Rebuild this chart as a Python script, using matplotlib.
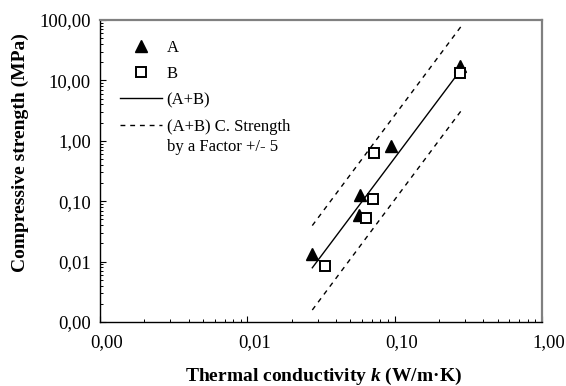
import matplotlib
matplotlib.use("Agg")
import matplotlib.pyplot as plt
from matplotlib.ticker import FuncFormatter, FixedLocator, NullFormatter
from matplotlib.transforms import ScaledTranslation

plt.rcParams['font.family'] = ['Liberation Serif', 'DejaVu Serif']
plt.rcParams['mathtext.fontset'] = 'custom'
plt.rcParams['mathtext.rm'] = 'Liberation Serif:bold'
plt.rcParams['mathtext.it'] = 'Liberation Serif:italic:bold'
plt.rcParams['mathtext.bf'] = 'Liberation Serif:bold'

# Data
a_k = [0.0275, 0.058, 0.0575, 0.095, 0.278]
a_s = [0.0134, 0.127, 0.059, 0.83, 17.3]
b_k = [0.0337, 0.0728, 0.071, 0.064, 0.278]
b_s = [0.00846, 0.62, 0.109, 0.0533, 13.1]
fit_k = [0.0276, 0.262]
fit_s = [0.0079, 11.9]
band_k = [0.0276, 0.282]
band_s = [0.0079, 15.6]
factor = 5
major_ticks = [0.001, 0.01, 0.1, 1, 10, 100]

fig = plt.figure(figsize=(5.66, 3.86), dpi=100)
ax = fig.add_axes([100/566, 1-322/386, 442/566, 302/386])
ax.set_xscale('log')
ax.set_yscale('log')
ax.set_xlim(0.001, 1)
ax.set_ylim(0.001, 100)

ax.plot(a_k, a_s, linestyle='none', marker='^', color='black', markersize=8, label='A', zorder=4)
ax.plot(b_k, b_s, linestyle='none', marker='s', markerfacecolor='white', markeredgecolor='black',
        markeredgewidth=1.4, markersize=7.5, label='B', zorder=4)
ax.plot(fit_k, fit_s, color='black', linewidth=1.0, label='(A+B)', zorder=3)
ax.plot(band_k, [v * factor for v in band_s], color='black', linewidth=1.0,
        linestyle=(0, (3.5, 3.5)), label='(A+B) C. Strength', zorder=3)
ax.plot(band_k, [v / factor for v in band_s], color='black', linewidth=1.0,
        linestyle=(0, (3.5, 3.5)), zorder=3)

fmt = FuncFormatter(lambda v, p: ('%.2f' % v).replace('.', ','))
minor = [m * 10.0**e for e in range(-3, 2) for m in range(2, 10)]
ax.xaxis.set_major_locator(FixedLocator([t for t in major_ticks if t <= 1]))
ax.yaxis.set_major_locator(FixedLocator(major_ticks))
ax.xaxis.set_minor_locator(FixedLocator([m for m in minor if m < 1]))
ax.yaxis.set_minor_locator(FixedLocator(minor))
ax.xaxis.set_major_formatter(fmt)
ax.yaxis.set_major_formatter(fmt)
ax.xaxis.set_minor_formatter(NullFormatter())
ax.yaxis.set_minor_formatter(NullFormatter())

ax.tick_params(which='both', direction='in', top=False, right=False, labelsize=13.5, color='black')
ax.tick_params(which='major', length=4, width=0.8)
ax.tick_params(axis='y', which='major', pad=6.5)
ax.tick_params(axis='x', which='major', pad=9)
ax.tick_params(which='minor', length=2.5, width=0.7)

for s in ['left', 'bottom']:
    ax.spines[s].set_color('black')
    ax.spines[s].set_linewidth(1.0)
for s in ['top', 'right']:
    ax.spines[s].set_color('#808080')
    ax.spines[s].set_linewidth(1.6)

ax.set_xlabel('Thermal conductivity $\\mathit{k}$ (W/m\u00b7K)', fontsize=14, fontweight='bold')
ax.set_ylabel('Compressive strength (MPa)', fontsize=14, fontweight='bold')
ax.xaxis.set_label_coords(0.505, -0.145)
ax.yaxis.set_label_coords(-0.16, 0.56)

leg = ax.legend(loc='upper left', bbox_to_anchor=(0.045, 0.935), frameon=False, fontsize=12,
                handlelength=2.5, handletextpad=0.3, labelspacing=0.62, borderaxespad=0,
                borderpad=0)

fig.canvas.draw()
off = ScaledTranslation(7/100, 0, fig.dpi_scale_trans)
for t in ax.xaxis.get_major_ticks():
    t.label1.set_transform(t.label1.get_transform() + off)

last = leg.get_texts()[-1]
bb = last.get_window_extent(fig.canvas.get_renderer())
fig.text(bb.x0 / fig.dpi / 5.66, (bb.y0 - 20) / fig.dpi / 3.86, 'by a Factor +/- 5',
         fontsize=12, ha='left', va='bottom')

fig.savefig('out.png', dpi=100)
